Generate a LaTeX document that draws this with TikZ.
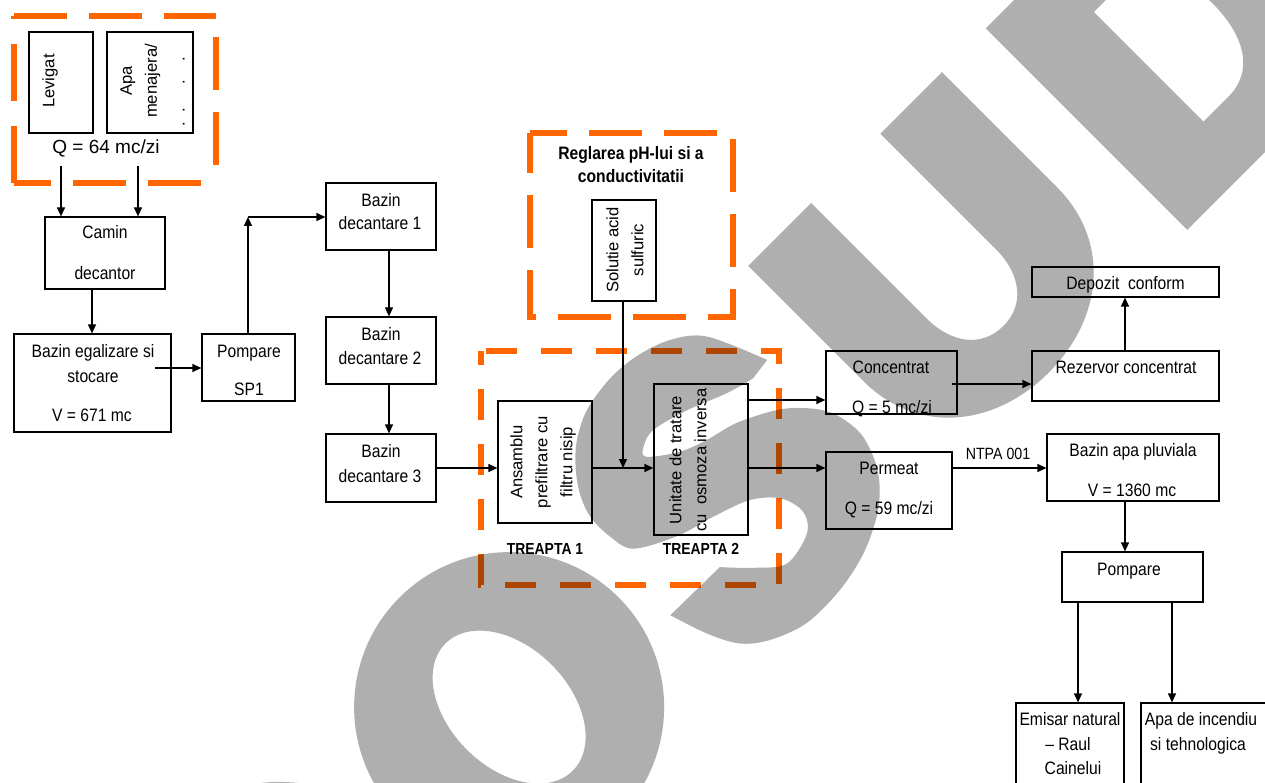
\documentclass[tikz,border=0pt]{standalone}
\usepackage{fontspec}
\setmainfont{Liberation Sans}
\newfontfamily\nar[FakeStretch=0.87]{Liberation Sans}
\usetikzlibrary{arrows.meta}
\definecolor{org}{RGB}{255,102,0}
\definecolor{wm}{gray}{0.686}
\begin{document}
\begin{tikzpicture}[x=1pt,y=-1pt,
  box/.style={draw, line width=1.2pt, inner sep=0pt},
  tx/.style={font=\nar\fontsize{18}{21}\selectfont, anchor=base, inner sep=0pt},
  rt/.style={font=\fontsize{16.6}{25}\selectfont, rotate=90, align=center, inner sep=0pt},
  arr/.style={-{Triangle[length=9pt,width=8pt]}, line width=1.2pt},
  dsh/.style={draw=org, line width=6pt, dash pattern=on 53pt off 22pt}]
\useasboundingbox (0,0) rectangle (1265,783);
\clip (0,0) rectangle (1265,783);
\fill[white] (0,0) rectangle (1265,783);

% ---------- orange dashed groups ----------
\coordinate (g1a) at (14,16);
\coordinate (g1b) at (216,16);
\coordinate (g1c) at (216,183);
\coordinate (g1d) at (14,183);
\draw[dsh] (g1a) -- (g1b);
\draw[dsh, dash phase=54pt] (g1b) -- (g1c);
\draw[dsh, dash phase=16pt] (g1d) -- (g1c);
\draw[dsh, dash pattern=on 57pt off 25pt] (g1d) -- (g1a);
\draw[dsh, dash phase=16pt] (530,133) -- (733,133) -- (733,317) -- (530,317) -- cycle;
\draw[dsh, dash pattern=on 31pt off 24pt, dash phase=50pt] (481,351) -- (779,351) -- (779,585) -- (481,585) -- cycle;

% ---------- boxes ----------
\node[box, minimum width=64pt, minimum height=101pt] (lev) at (61,82.5) {};
\node[box, minimum width=86pt, minimum height=101pt] (apa) at (150,82.5) {};
\node[box, minimum width=120pt, minimum height=72pt] (camin) at (105,253) {};
\node[box, minimum width=157pt, minimum height=98pt] (begal) at (92.5,383) {};
\node[box, minimum width=93pt, minimum height=67pt] (pomp1) at (248.5,367.5) {};
\node[box, minimum width=110pt, minimum height=67pt] (bd1) at (381,216.5) {};
\node[box, minimum width=110pt, minimum height=67pt] (bd2) at (381,350.5) {};
\node[box, minimum width=110pt, minimum height=68pt] (bd3) at (381,468) {};
\node[box, minimum width=64pt, minimum height=101pt] (sol) at (624,250.5) {};
\node[box, minimum width=94pt, minimum height=122pt] (ans) at (545,462) {};
\node[box, minimum width=94pt, minimum height=151pt] (unit) at (701,459.5) {};
\node[box, minimum width=131pt, minimum height=63pt] (conc) at (891.5,382.5) {};
\node[box, minimum width=187pt, minimum height=50pt] (rez) at (1125.5,376) {};
\node[box, minimum width=187pt, minimum height=30pt] (dep) at (1125.5,282) {};
\node[box, minimum width=126pt, minimum height=77pt] (perm) at (889,490.5) {};
\node[box, minimum width=172pt, minimum height=67pt] (bapa) at (1133,467.5) {};
\node[box, minimum width=141pt, minimum height=50pt] (pomp2) at (1132.5,577) {};
\node[box, minimum width=108pt, minimum height=97pt] (emis) at (1070,751.5) {};
\node[box, minimum width=139pt, minimum height=97pt] (apai) at (1210.5,751.5) {};

% ---------- texts ----------
\node[rt] (tlev) at (50,81) {Levigat};
\node[rt] (tapa) at (140.5,81) {Apa\\menajera/};
\node[rt, anchor=base west] (tdots) at (184.5,126.3) {.\hspace{9.4pt}.\hspace{23.4pt}.\hspace{18.4pt}.};
\node[anchor=base, inner sep=0pt, font=\fontsize{19}{22}\selectfont] (tq64) at (106,154) {Q = 64 mc/zi};
\node[tx] (tc1) at (105,239) {Camin};
\node[tx] (tc2) at (105,280) {decantor};
\node[tx] (tb1) at (93,357) {Bazin egalizare si};
\node[tx] (tb2) at (93,382) {stocare};
\node[tx] (tb3) at (92,421) {V = 671 mc};
\node[tx] (tp1) at (249,357) {Pompare};
\node[tx] (tp2) at (249,395) {SP1};
\node[tx] (td1a) at (381,207) {Bazin};
\node[tx] (td1b) at (380,230) {decantare 1};
\node[tx] (td2a) at (381,340) {Bazin};
\node[tx] (td2b) at (380,364) {decantare 2};
\node[tx] (td3a) at (381,457) {Bazin};
\node[tx] (td3b) at (380,482) {decantare 3};
\node[tx, font=\nar\bfseries\fontsize{18}{21}\selectfont] (tr1) at (631,160) {Reglarea pH-lui si a};
\node[tx, font=\nar\bfseries\fontsize{18}{21}\selectfont] (tr2) at (631,183) {conductivitatii};
\node[rt] (tsol) at (625,250) {Solutie acid\\sulfuric};
\node[rt] (tans) at (543,462) {Ansamblu\\prefiltrare cu\\filtru nisip};
\node[rt] (tunit) at (688,460) {Unitate de tratare\\cu\ \ osmoza inversa};
\node[tx, font=\nar\bfseries\fontsize{16}{19}\selectfont] (tt1) at (545,554) {TREAPTA 1};
\node[tx, font=\nar\bfseries\fontsize{16}{19}\selectfont] (tt2) at (701,554) {TREAPTA 2};
\node[tx] (tco1) at (891,373) {Concentrat};
\node[tx] (tco2) at (892,413) {Q = 5 mc/zi};
\node[tx] (trez) at (1126,373) {Rezervor concentrat};
\node[tx] (tdep) at (1125.5,290) {Depozit\ \ conform};
\node[tx] (tpe1) at (889,474) {Permeat};
\node[tx] (tpe2) at (889,514) {Q = 59 mc/zi};
\node[tx, font=\nar\fontsize{16.3}{19}\selectfont] (tntpa) at (998,459) {NTPA 001};
\node[tx] (tba1) at (1133,456) {Bazin apa pluviala};
\node[tx] (tba2) at (1132,496) {V = 1360 mc};
\node[tx] (tpo) at (1129,575) {Pompare};
\node[tx] (te1) at (1070,725) {Emisar natural};
\node[tx] (te2) at (1068,750) {– Raul};
\node[tx] (te3) at (1073,774) {Cainelui};
\node[tx] (ta1) at (1201,725) {Apa de incendiu};
\node[tx] (ta2) at (1198,750) {si tehnologica};

% ---------- connectors ----------
\coordinate (s1) at (61,166);
\coordinate (s2) at (138,166);
\draw[arr] (s1) -- (s1 |- camin.north);
\draw[arr] (s2) -- (s2 |- camin.north);
\draw[arr] (camin.south -| 92,0) -- (begal.north -| 92,0);
\coordinate (s4) at (155,368);
\draw[arr] (s4) -- (s4 -| pomp1.west);
\coordinate (c5) at (248,217);
\draw[arr] (pomp1.north -| c5) -- (c5);
\draw[arr] (c5) -- (c5 -| bd1.west);
\draw[arr] (bd1.south -| 389,0) -- (bd2.north -| 389,0);
\draw[arr] (bd2.south -| 389,0) -- (bd3.north -| 389,0);
\draw[arr] (bd3.east) -- (ans.west |- bd3.east);
\coordinate (j) at (623,468);
\draw[arr] (sol.south -| j) -- (j);
\draw[arr] (ans.east |- j) -- (unit.west |- j);
\draw[arr] (unit.east |- 0,400) -- (conc.west |- 0,400);
\draw[arr] (unit.east |- j) -- (perm.west |- j);
\coordinate (s13) at (952,384);
\draw[arr] (s13) -- (s13 -| rez.west);
\draw[arr] (rez.north -| 1125,0) -- (dep.south -| 1125,0);
\draw[arr] (perm.east |- j) -- (bapa.west |- j);
\draw[arr] (bapa.south -| 1125,0) -- (pomp2.north -| 1125,0);
\draw[arr] (pomp2.south -| 1078,0) -- (emis.north -| 1078,0);
\draw[arr] (pomp2.south -| 1172,0) -- (apai.north -| 1172,0);

% ---------- watermark ----------
\begin{scope}[rotate=45, blend mode=multiply]
  \fill[wm, even odd rule] (-465,860) circle[radius=155] (-465,860) ellipse[x radius=60, y radius=90];
  \fill[wm, even odd rule] (-140,860) circle[radius=155] (-140,860) ellipse[x radius=60, y radius=90];
  \fill[wm] plot[smooth, tension=0.55] coordinates {(288,797) (262,738) (233,714) (198,702) (163,699)
      (125,705) (97,719) (77,737) (61,759) (52,783) (52,811) (60,836) (100,858) (140,870) (177,884)
      (200,905) (206,930) (193,948) (158,955) (132,935) (108,910)}
    -- plot[smooth, tension=0.55] coordinates {(39,909) (52,948) (68,978) (92,997) (130,1011) (177,1011)
      (219,1002) (255,985) (278,966) (293,944) (302,915) (298,885) (286,864) (262,841) (222,820)
      (189,811) (161,800) (134,780) (139,771) (158,766) (196,776) (236,792) (265,800)} -- cycle;
  \fill[wm] (341,717) -- (341,880) .. controls (341,955) and (400,1005) .. (478,1005)
     .. controls (556,1005) and (615,955) .. (615,880) -- (615,717) -- (528,717) -- (528,880)
     .. controls (528,915) and (510,940) .. (479,940) .. controls (448,940) and (430,915) .. (430,880)
     -- (430,717) -- cycle;
  \fill[wm, even odd rule] (677,717) -- (800,717) .. controls (900,717) and (950,780) .. (950,860)
     .. controls (950,940) and (900,1002) .. (800,1002) -- (677,1002) -- cycle
     (765,782) -- (800,782) .. controls (840,782) and (855,820) .. (855,860)
     .. controls (855,900) and (840,937) .. (800,937) -- (765,937) -- cycle;
\end{scope}
\end{tikzpicture}
\end{document}
